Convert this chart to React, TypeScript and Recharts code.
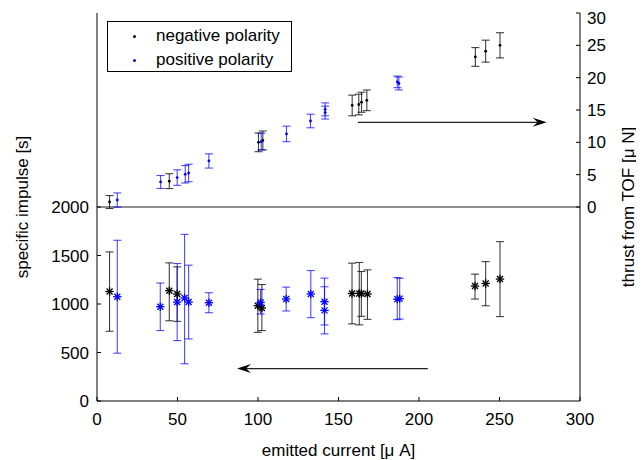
import React from "react";
import {
  ScatterChart,
  Scatter,
  XAxis,
  YAxis,
  ErrorBar,
  ReferenceLine,
  Legend,
} from "recharts";

// thrust from TOF (upper half, right axis)
const negThrustCurrent = [7.8, 44.9, 100.3, 103, 158.5, 162.6, 164.3, 167.6, 235, 241.4, 250.3];
const negThrust = [0.77, 4.0, 10.0, 10.3, 15.7, 15.85, 16.2, 16.5, 23.2, 24.1, 25.0];
const negThrustErr = [1.0, 1.15, 1.45, 1.45, 1.6, 1.6, 1.55, 1.6, 1.45, 1.7, 1.95];

const posThrustCurrent = [12.6, 39.5, 49.8, 54.8, 56.9, 69.5, 102, 117.7, 132.6, 141.7, 141.7, 186.5, 187.5];
const posThrust = [1.08, 3.87, 4.55, 5.06, 5.26, 7.12, 10.1, 11.3, 13.3, 15.1, 14.6, 19.35, 19.1];
const posThrustErr = [1.1, 1.0, 1.2, 1.35, 1.35, 1.1, 1.3, 1.2, 1.05, 1.0, 1.0, 0.9, 1.0];

// specific impulse (lower half, left axis)
const negIspCurrent = [7.8, 44.9, 49.8, 99.9, 102.4, 158.4, 162.9, 164.2, 168, 234.8, 241.4, 250.3];
const negIsp = [1129, 1137, 1103, 982, 959, 1109, 1109, 1109, 1103, 1185, 1212, 1257];
const negIspLow = [719, 827, 821, 708, 726, 795, 785, 873, 842, 1051, 982, 870];
const negIspHigh = [1537, 1424, 1383, 1256, 1201, 1421, 1428, 1335, 1352, 1308, 1437, 1643];

const posIspCurrent = [12.6, 39.3, 49.8, 54.4, 56.9, 69.5, 101.6, 117.5, 132.8, 141.3, 141.3, 186.5, 188];
const posIsp = [1075, 972, 1020, 1062, 1020, 1013, 1016, 1051, 1103, 1024, 934, 1050, 1055];
const posIspLow = [493, 726, 623, 384, 640, 910, 897, 928, 859, 784, 692, 839, 845];
const posIspHigh = [1657, 1216, 1417, 1718, 1400, 1116, 1150, 1174, 1345, 1267, 1178, 1273, 1265];

const xTicks = [0, 50, 100, 150, 200, 250, 300];
const ispTicks = [0, 500, 1000, 1500, 2000];
const thrustTicks = [0, 5, 10, 15, 20, 25, 30];

const legendLabels = ["negative polarity", "positive polarity"];
const legendColors = ["#000000", "#0000ff"];

const FONT = "'Liberation Sans', Arial, Helvetica, sans-serif";

const thrustRows = (xs, ys, es) => xs.map((x, i) => ({ x, y: ys[i], err: es[i] }));
const ispRows = (xs, ys, lo, hi) =>
  xs.map((x, i) => ({ x, y: ys[i], err: [ys[i] - lo[i], hi[i] - ys[i]] }));

const negThrustData = thrustRows(negThrustCurrent, negThrust, negThrustErr);
const posThrustData = thrustRows(posThrustCurrent, posThrust, posThrustErr);
const negIspData = ispRows(negIspCurrent, negIsp, negIspLow, negIspHigh);
const posIspData = ispRows(posIspCurrent, posIsp, posIspLow, posIspHigh);

function SmallDot(props) {
  const { cx, cy, fill } = props;
  return <circle cx={cx} cy={cy} r={1.4} fill={fill} />;
}

function Asterisk(props) {
  const { cx, cy, fill } = props;
  const r = 4.2;
  const d = 3;
  return (
    <g stroke={fill} strokeWidth={1.3}>
      <line x1={cx - r} y1={cy} x2={cx + r} y2={cy} />
      <line x1={cx} y1={cy - r} x2={cx} y2={cy + r} />
      <line x1={cx - d} y1={cy - d} x2={cx + d} y2={cy + d} />
      <line x1={cx - d} y1={cy + d} x2={cx + d} y2={cy - d} />
    </g>
  );
}

function Arrow(props) {
  const { x1, y1, x2, y2 } = props;
  const dir = x2 > x1 ? 1 : -1;
  const notch = x2 - dir * 9;
  const back = x2 - dir * 14;
  return (
    <g>
      <line x1={x1} y1={y1} x2={notch} y2={y2} stroke="#222" strokeWidth={1.3} />
      <polygon
        points={`${x2},${y2} ${back},${y2 - 4.5} ${notch},${y2} ${back},${y2 + 4.5}`}
        fill="#000"
      />
    </g>
  );
}

function LegendBox() {
  return (
    <div
      style={{
        width: 183,
        height: 49,
        border: "1px solid #000",
        background: "#fff",
        fontFamily: FONT,
        fontSize: 17,
        position: "relative",
      }}
    >
      {legendLabels.map((label, i) => (
        <div
          key={label}
          style={{ position: "absolute", left: 0, top: 3 + i * 24, height: 22, lineHeight: "22px" }}
        >
          <span
            style={{
              position: "absolute",
              left: 25,
              top: 10,
              width: 3,
              height: 3,
              borderRadius: 2,
              background: legendColors[i],
            }}
          />
          <span style={{ position: "absolute", left: 48, whiteSpace: "nowrap", color: "#000" }}>
            {label}
          </span>
        </div>
      ))}
    </div>
  );
}

const tickStyle = { fontSize: 17, fill: "#000", fontFamily: FONT };
const labelStyle = { fontSize: 17, fill: "#000", fontFamily: FONT };

export default function App() {
  return (
    <ScatterChart
      width={636}
      height={452}
      margin={{ top: 5, right: 4, bottom: 4, left: 4 }}
      style={{ fontFamily: FONT }}
    >
      <XAxis
        xAxisId="b"
        type="number"
        dataKey="x"
        domain={[0, 300]}
        ticks={xTicks}
        height={55}
        stroke="#000"
        tick={tickStyle}
        tickSize={-4}
        tickMargin={16}
        label={{ value: "emitted current [μ A]", position: "insideBottom", offset: 0, style: labelStyle }}
      />
      <XAxis
        xAxisId="t"
        orientation="top"
        type="number"
        domain={[0, 300]}
        ticks={xTicks}
        height={0}
        stroke="#000"
        tick={false}
        tickSize={-4}
      />
      <YAxis
        yAxisId="isp"
        type="number"
        dataKey="y"
        domain={[0, 4000]}
        ticks={ispTicks}
        width={85}
        stroke="#000"
        tick={tickStyle}
        tickSize={-4}
        tickMargin={12}
        allowDataOverflow
        label={{ value: "specific impulse [s]", angle: -90, position: "center", dx: -33, style: labelStyle }}
      />
      <YAxis
        yAxisId="mirror"
        orientation="right"
        type="number"
        domain={[0, 4000]}
        ticks={[500, 1000, 1500]}
        width={0}
        axisLine={false}
        tick={false}
        tickSize={-4}
        stroke="#000"
      />
      <YAxis
        yAxisId="thr"
        orientation="right"
        type="number"
        dataKey="y"
        domain={[-30, 30]}
        ticks={thrustTicks}
        width={60}
        stroke="#000"
        tick={tickStyle}
        tickSize={-4}
        tickMargin={11}
        allowDataOverflow
        label={{ value: "thrust from TOF [μ N]", angle: -90, position: "center", dx: 18, style: labelStyle }}
      />
      <ReferenceLine xAxisId="b" yAxisId="isp" y={2000} stroke="#222" strokeWidth={1.2} />
      <ReferenceLine
        xAxisId="b"
        yAxisId="thr"
        segment={[{ x: 162, y: 13.1 }, { x: 279.3, y: 13.1 }]}
        shape={Arrow}
      />
      <ReferenceLine
        xAxisId="b"
        yAxisId="isp"
        segment={[{ x: 205.5, y: 334 }, { x: 87, y: 334 }]}
        shape={Arrow}
      />
      <Scatter
        name="negative thrust"
        xAxisId="b"
        yAxisId="thr"
        data={negThrustData}
        fill="#000000"
        shape={SmallDot}
        isAnimationActive={false}
      >
        <ErrorBar dataKey="err" direction="y" width={4} stroke="#000" strokeOpacity={0.75} strokeWidth={1.1} />
      </Scatter>
      <Scatter
        name="positive thrust"
        xAxisId="b"
        yAxisId="thr"
        data={posThrustData}
        fill="#0000ff"
        shape={SmallDot}
        isAnimationActive={false}
      >
        <ErrorBar dataKey="err" direction="y" width={4} stroke="#0000ff" strokeOpacity={0.7} strokeWidth={1.1} />
      </Scatter>
      <Scatter
        name="negative isp"
        xAxisId="b"
        yAxisId="isp"
        data={negIspData}
        fill="#000000"
        shape={Asterisk}
        isAnimationActive={false}
      >
        <ErrorBar dataKey="err" direction="y" width={4} stroke="#000" strokeOpacity={0.75} strokeWidth={1.1} />
      </Scatter>
      <Scatter
        name="positive isp"
        xAxisId="b"
        yAxisId="isp"
        data={posIspData}
        fill="#0000ff"
        shape={Asterisk}
        isAnimationActive={false}
      >
        <ErrorBar dataKey="err" direction="y" width={4} stroke="#0000ff" strokeOpacity={0.7} strokeWidth={1.1} />
      </Scatter>
      <Legend
        layout="vertical"
        align="center"
        verticalAlign="middle"
        content={<LegendBox />}
        wrapperStyle={{ left: 99, top: 13, width: 185, height: 51 }}
      />
    </ScatterChart>
  );
}
